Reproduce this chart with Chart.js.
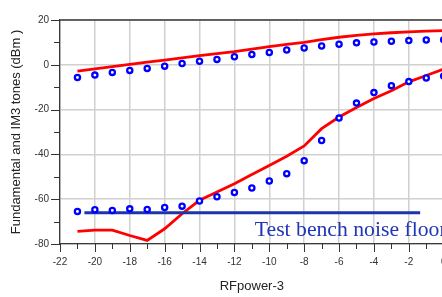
<!DOCTYPE html>
<html><head><meta charset="utf-8">
<script src="https://cdn.jsdelivr.net/npm/chart.js@4"></script>
<style>
html,body{margin:0;padding:0;background:#fff;overflow:hidden;}
#wrap{width:460px;height:297px;position:relative;}
</style></head><body>
<div id="wrap"><canvas id="c" width="460" height="297"></canvas></div>
<script>
// RF input power (x axis)
const rfPower = [-21,-20,-19,-18,-17,-16,-15,-14,-13,-12,-11,-10,-9,-8,-7,-6,-5,-4,-3,-2,-1,0];
// Measured fundamental (blue circles, upper)
const fundMeas = [-5.7,-4.6,-3.4,-2.5,-1.6,-0.6,0.6,1.6,2.4,3.6,4.6,5.5,6.6,7.5,8.4,9.2,9.8,10.2,10.5,10.8,11.1,11.2];
// Simulated fundamental (red line, upper)
const fundSim = [-2.8,-1.8,-0.8,0.2,1.2,2.1,3.1,4.1,5.0,5.9,7.0,8.1,9.1,10.0,11.2,12.3,13.1,13.8,14.3,14.7,15.0,15.3];
// Measured IM3 (blue circles, lower)
const im3Meas = [-65.5,-64.7,-65.0,-64.3,-64.6,-63.7,-63.1,-60.8,-58.9,-57.0,-55.0,-51.9,-48.6,-42.8,-33.8,-23.8,-17.1,-12.4,-9.3,-7.5,-5.9,-5.0];
// Simulated IM3 (red line, lower)
const im3Sim = [-74.4,-73.8,-73.8,-76.2,-78.4,-73.2,-66.5,-60.5,-56.8,-53.1,-49.0,-45.0,-40.8,-36.2,-28.5,-23.3,-19.1,-15.0,-11.6,-7.6,-4.8,-1.9];
// Test bench noise floor line
const noiseX = [-20.6, -1.35];
const noiseY = [-66, -66];
const noiseLabel = 'Test bench noise floor';
const noiseLabelX = -10.83;
const noiseLabelY = -76.4;
const xTitle = 'RFpower-3';
const yTitle = 'Fundamental and IM3 tones (dBm )';

const pts = (xs, ys) => xs.map((x, i) => ({x, y: ys[i]}));
const sans = '"Liberation Sans", Arial, sans-serif';

const framePlugin = {
  id: 'frame',
  afterDatasetsDraw(chart) {
    const {ctx, scales: {x, y}} = chart;
    ctx.save();
    ctx.font = '21.7px "Liberation Serif", "Times New Roman", serif';
    ctx.fillStyle = '#2036b8';
    ctx.textAlign = 'left';
    ctx.textBaseline = 'alphabetic';
    ctx.fillText(noiseLabel, x.getPixelForValue(noiseLabelX), y.getPixelForValue(noiseLabelY));
    ctx.restore();
  },
  afterDraw(chart) {
    const {ctx, chartArea: a, scales: {x, y}} = chart;
    ctx.save();
    ctx.strokeStyle = '#3a3a3a';
    ctx.lineWidth = 1.3;
    ctx.beginPath();
    ctx.moveTo(a.left, a.top); ctx.lineTo(a.right + 2, a.top);
    ctx.stroke();
    ctx.lineWidth = 1;
    ctx.strokeStyle = '#333';
    ctx.beginPath();
    for (let v = x.min; v <= x.max; v += 1) {
      const px = Math.round(x.getPixelForValue(v)) + 0.5;
      const len = (v % 2 === 0) ? 8 : 5;
      ctx.moveTo(px, a.bottom); ctx.lineTo(px, a.bottom + len);
    }
    for (let v = y.min; v <= y.max; v += 10) {
      const py = Math.round(y.getPixelForValue(v)) + 0.5;
      const len = (v % 20 === 0) ? 9 : 6;
      ctx.moveTo(a.left, py); ctx.lineTo(a.left - len, py);
    }
    ctx.stroke();
    ctx.restore();
  }
};

const circleStyle = {
  showLine: false, pointRadius: 2.6, pointBorderWidth: 2.3,
  pointBorderColor: '#0000ff', pointBackgroundColor: '#ffffff',
  borderColor: '#0000ff', backgroundColor: '#ffffff', pointStyle: 'circle'
};
const redStyle = { borderColor: '#ff0000', borderWidth: 2.8, pointRadius: 0, fill: false, tension: 0 };

new Chart(document.getElementById('c'), {
  type: 'line',
  data: {
    datasets: [
      Object.assign({label: 'Fundamental (meas)', data: pts(rfPower, fundMeas), order: 0}, circleStyle),
      Object.assign({label: 'IM3 (meas)', data: pts(rfPower, im3Meas), order: 0}, circleStyle),
      {label: 'Noise floor', data: pts(noiseX, noiseY), borderColor: '#1c35a8', borderWidth: 3, pointRadius: 0, order: 1},
      Object.assign({label: 'Fundamental (sim)', data: pts(rfPower, fundSim), order: 2}, redStyle),
      Object.assign({label: 'IM3 (sim)', data: pts(rfPower, im3Sim), order: 2}, redStyle)
    ]
  },
  options: {
    responsive: false,
    animation: false,
    events: [],
    layout: {padding: {top: 20, right: 16.3, left: 0, bottom: 0}},
    plugins: {legend: {display: false}, tooltip: {enabled: false}},
    scales: {
      x: {
        type: 'linear', min: -22, max: 0,
        ticks: {stepSize: 2, autoSkip: false, maxRotation: 0, padding: 4, color: '#333',
                font: {family: sans, size: 10}, callback: v => String(v)},
        grid: {color: '#d0d0d0', lineWidth: 1.5, tickLength: 8, tickColor: 'transparent'},
        border: {color: '#3a3a3a', width: 1.3},
        title: {display: true, text: xTitle, color: '#222', font: {family: sans, size: 13}, padding: {top: 0, bottom: 3}},
        afterFit(s) { s.height = 53; }
      },
      y: {
        type: 'linear', min: -80, max: 20,
        ticks: {stepSize: 20, padding: 3, color: '#333', font: {family: sans, size: 10}, callback: v => String(v)},
        grid: {color: '#d0d0d0', lineWidth: 1.5, tickLength: 8, tickColor: 'transparent'},
        border: {color: '#3a3a3a', width: 1.3},
        title: {display: true, text: yTitle, color: '#222', font: {family: sans, size: 13}, padding: {top: 9, bottom: 0}},
        afterFit(s) { s.width = 60; }
      }
    }
  },
  plugins: [framePlugin]
});
</script>
</body></html>
